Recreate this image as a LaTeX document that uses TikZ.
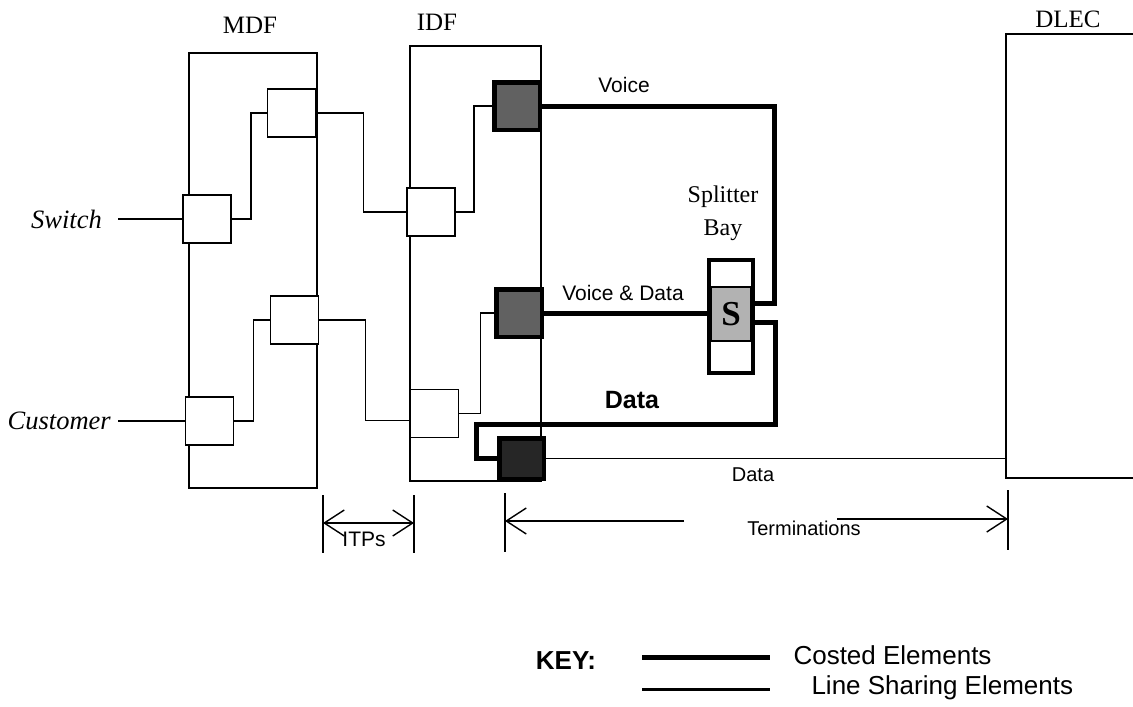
\documentclass[tikz,border=0pt]{standalone}
\usepackage{fontspec}
\setmainfont{Liberation Serif}
\newfontfamily\sansf{Liberation Sans}
\usetikzlibrary{arrows.meta,positioning,calc}

\begin{document}
\begin{tikzpicture}[x=1pt,y=-1pt,
    frame/.style={draw,line width=1.6pt,inner sep=0pt},
    port/.style={draw,line width=1.6pt,fill=white,inner sep=0pt,minimum width=48pt,minimum height=48pt},
    costport/.style={draw,line width=4.5pt,fill=black!62,inner sep=0pt,minimum width=45.5pt,minimum height=47.5pt},
    share/.style={line width=1.6pt},
    costed/.style={line width=5pt},
    serif/.style={font=\fontsize{25}{28}\selectfont},
    sans/.style={font=\sansf\fontsize{21}{24}\selectfont},
    barb/.style={-{Straight Barb[length=20pt,width=26pt,line width=1.4pt]},line width=1.4pt},
    dim/.style={{Straight Barb[length=20pt,width=26pt,line width=1.4pt]}-{Straight Barb[length=20pt,width=26pt,line width=1.4pt]},line width=1.4pt}]
   \path[use as bounding box,clip] (0,0) rectangle (1133,707);
   \node[frame,minimum width=128pt,minimum height=435pt] (mdf) at (253,270.5) {};
   \node[frame,minimum width=131pt,minimum height=435pt] (idf) at (475.5,263.5) {};
   \node[frame,minimum width=150pt,minimum height=444pt,anchor=north west] (dlec) at (1005,33) {};
   \node[serif] (mdft) at (250,25) {MDF};
   \node[serif] (idft) at (437,22) {IDF};
   \node[serif] (dlect) at (1068,19) {DLEC};
   \node[port] (sw) at (207,219) {};
   \node[port] (cu) at (209.5,421) {};
   \node[port] (mu) at (291.5,113) {};
   \node[port] (ml) at (294.5,320) {};
   \node[port] (iu) at (431,212) {};
   \node[port] (il) at (434.5,413.5) {};
   \node[costport] (vo) at (517,106) {};
   \node[costport] (vd) at (519,313) {};
   \node[costport,fill=black!85,minimum width=44.5pt,minimum height=40.5pt] (da) at (521.5,458.5) {};
   \node[draw,line width=1.5pt,fill=black!30,inner sep=0pt,minimum width=40pt,minimum height=54pt,font=\bfseries\fontsize{35}{35}\selectfont] (sbox) at (731,314) {S};
   \node[draw,line width=4pt,inner sep=0pt,minimum width=44pt,minimum height=113pt] (spl) at (731,316.5) {};
   \node[serif,align=center,font=\fontsize{24}{33}\selectfont] (splt) at (723,213) {Splitter\\Bay};
   \node[serif,font=\fontsize{26.5}{30}\selectfont,anchor=east,inner xsep=16pt] (swt) at (118,219) {\textit{Switch}};
   \node[serif,font=\fontsize{26.5}{30}\selectfont,anchor=east,inner xsep=7pt] (cut) at (118,421) {\textit{Customer}};
   \draw[share] (swt.east) -- (swt.east -| sw.west);
   \draw[share] (cut.east) -- (cut.east -| cu.west);
   \draw[share] (sw.east) -- ++(19,0) |- (mu.west);
   \draw[share] (cu.east) -- ++(19,0) |- (ml.west);
   \draw[share] (mu.east) -- ++(47,0) |- (iu.west);
   \draw[share] (ml.east) -- ++(46,0) |- ([yshift=-7pt]il.west);
   \draw[share] (iu.east) -- ++(18,0) |- (vo.west);
   \draw[share] (il.east) -- ++(21,0) |- (vd.west);
   \draw[costed] (vo.east) -- ++(232,0) |- ([yshift=13pt]spl.east);
   \draw[costed] (vd.east) -- (vd.east -| spl.west);
   \draw[costed] ([yshift=-5.5pt]spl.east) -- ++(20,0) -- ++(0,102) -- ++(-299,0) |- (da.west);
   \draw[share] (da.east) -- (da.east -| dlec.west);
   \node[sans] (vot) at (624,85) {Voice};
   \node[sans] (vdt) at (623,293) {Voice \& Data};
   \node[sans,font=\sansf\bfseries\fontsize{25}{28}\selectfont] (dat) at (632,400) {Data};
   \node[sans,font=\sansf\fontsize{20}{24}\selectfont] (dat2) at (753,475) {Data};
   \coordinate (i1t) at (323,495); \coordinate (i1b) at (323,553);
   \coordinate (i2t) at (414,495); \coordinate (i2b) at (414,553);
   \coordinate (t1t) at (505,493); \coordinate (t1b) at (505,552);
   \coordinate (t2t) at (1008,490); \coordinate (t2b) at (1008,550);
   \draw[share] (i1t) -- (i1b);
   \draw[share] (i2t) -- (i2b);
   \draw[share] (t1t) -- (t1b);
   \draw[share] (t2t) -- (t2b);
   \coordinate (i1) at (323,523); \coordinate (i2) at (414,523);
   \draw[dim] (i1) -- (i2);
   \node[sans] (itp) at (364,539) {ITPs};
   \coordinate (ta) at (505,521); \coordinate (tb) at (684,521);
   \coordinate (tc) at (837,519); \coordinate (td) at (1008,519);
   \draw[barb] (tb) -- (ta);
   \draw[barb] (tc) -- (td);
   \node[sans,font=\sansf\fontsize{20}{24}\selectfont] (term) at (804,528) {Terminations};
   \node[sans,font=\sansf\bfseries\fontsize{26}{28}\selectfont] (key) at (566,661) {KEY:};
   \coordinate (k1a) at (642,657); \coordinate (k1b) at (770,657);
   \draw[costed] (k1a) -- (k1b);
   \coordinate (k2a) at (642,689); \coordinate (k2b) at (770,689);
   \draw[line width=3pt] (k2a) -- (k2b);
   \node[sans,font=\sansf\fontsize{26}{28}\selectfont,anchor=west] (kc) at (790,655) {Costed Elements};
   \node[sans,font=\sansf\fontsize{26}{28}\selectfont,anchor=west] (kl) at (808,688) {Line Sharing Elements};
  \end{tikzpicture}
\end{document}
